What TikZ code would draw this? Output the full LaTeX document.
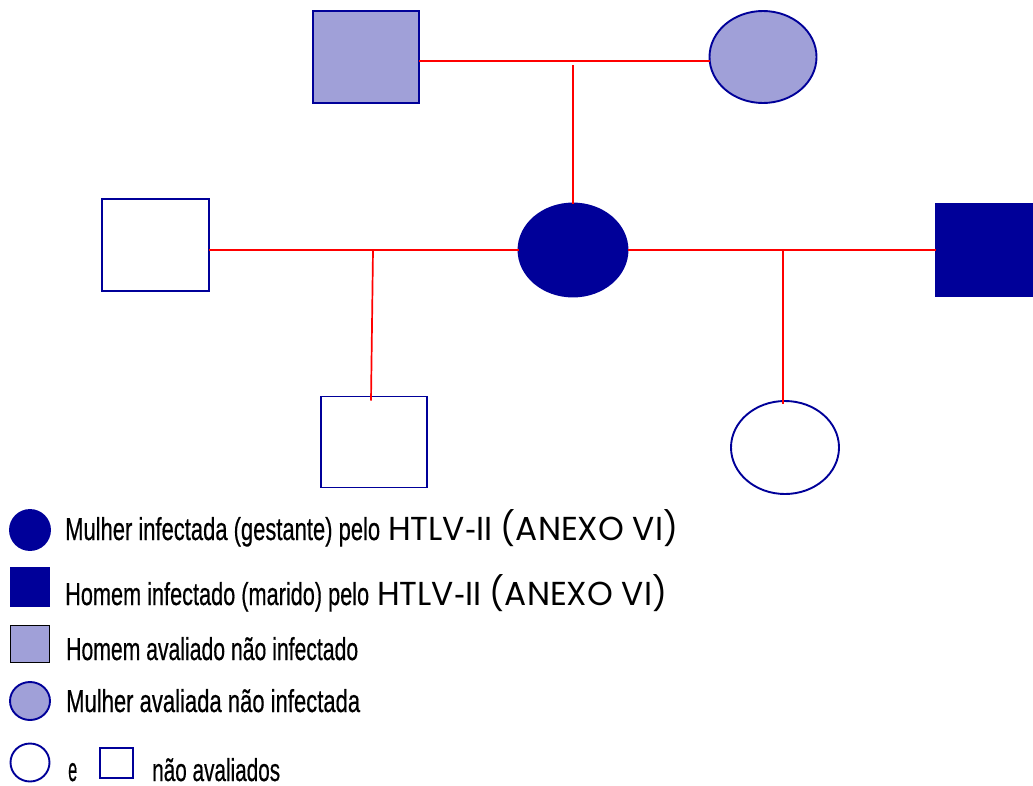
\documentclass[tikz,border=0pt]{standalone}
\usepackage{fontspec}
\usepackage{graphicx}
\setmainfont{Liberation Sans}[FakeBold=0.6]
\newfontfamily\geofont{Poppins}
\newfontfamily\plainfont{Liberation Sans}
\usetikzlibrary{shapes.geometric}
\definecolor{dkblue}{HTML}{000099}
\definecolor{ltblue}{HTML}{A0A0D8}
\definecolor{lnred}{HTML}{FF0000}
\newcommand\htlvtext{\geofont HTLV{\plainfont -}II (ANEXO VI)}
\begin{document}
\begin{tikzpicture}[x=1pt,y=-1pt,
  person/.style={line width=1.9pt, inner sep=0pt, outer sep=0pt},
  male/.style={person, rectangle},
  female/.style={person, ellipse},
  affected/.style={fill=dkblue, draw=dkblue},
  tested/.style={fill=ltblue, draw=dkblue},
  untested/.style={fill=white, draw=dkblue},
  rel/.style={draw=lnred, line width=1.7pt},
  legtext/.style={anchor=base west, inner sep=0pt, font=\fontsize{31}{32}\selectfont}]
\useasboundingbox (0,0) rectangle (1033,785);

% pedigree
\node[male,tested,minimum width=106pt,minimum height=92pt] (gf) at (366,57) {};
\node[female,tested,minimum width=107pt,minimum height=92pt] (gm) at (763,57) {};
\node[male,untested,minimum width=107pt,minimum height=92pt] (h1) at (155.5,245) {};
\node[female,affected,minimum width=109pt,minimum height=93pt] (w) at (573,250) {};
\node[male,affected,minimum width=100pt,minimum height=93pt] (h2) at (986,250) {};
\node[male,untested,minimum width=106pt,minimum height=91pt] (c1) at (374,442) {};
\node[female,untested,minimum width=108pt,minimum height=93pt] (c2) at (785,447.5) {};

\coordinate (j1) at (573,65);
\coordinate (j2) at (373,250);
\coordinate (j3) at (783,250);

\draw[rel] ([yshift=-4pt]gf.east) -- ([yshift=-4pt]gm.west);
\draw[rel] (j1) -- (w.north);
\draw[rel] ([yshift=-5pt]h1.east) -- (w.west);
\draw[rel] (w.east) -- (h2.west);
\draw[rel] (j2) -- ([xshift=-3pt,yshift=-4pt]c1.north);
\draw[rel] (j3) -- ([xshift=-2pt,yshift=-3pt]c2.north);

% legend
\node[female,affected,minimum width=40pt,minimum height=40pt] (l1) at (30,530) {};
\node[male,affected,minimum width=39pt,minimum height=39pt] (l2) at (30,587) {};
\node[male,fill=ltblue,draw=black,minimum width=39pt,minimum height=37pt] (l3) at (30,644) {};
\node[female,tested,minimum width=40pt,minimum height=38pt] (l4) at (30,701) {};
\node[female,untested,minimum width=39pt,minimum height=38pt] (l5) at (30,762.5) {};
\node[male,untested,minimum width=33pt,minimum height=30pt] (l6) at (116.5,763) {};

\node[legtext] (t1) at (65,540) {\resizebox{315pt}{23pt}{Mulher infectada (gestante) pelo}\hspace{8pt}\resizebox{290pt}{1.07\height}{\htlvtext}};
\node[legtext] (t2) at (65,605) {\resizebox{304pt}{23pt}{Homem infectado (marido) pelo}\hspace{8pt}\resizebox{290pt}{1.07\height}{\htlvtext}};
\node[legtext] (t3) at (66,660) {\resizebox{292pt}{23pt}{Homem avaliado não infectado}};
\node[legtext] (t4) at (66,712) {\resizebox{294pt}{23pt}{Mulher avaliada não infectada}};
\node[legtext] (t5) at (68,781) {\resizebox{9pt}{18pt}{e}};
\node[legtext] (t6) at (152,781) {\resizebox{128pt}{23pt}{não avaliados}};
\end{tikzpicture}
\end{document}
